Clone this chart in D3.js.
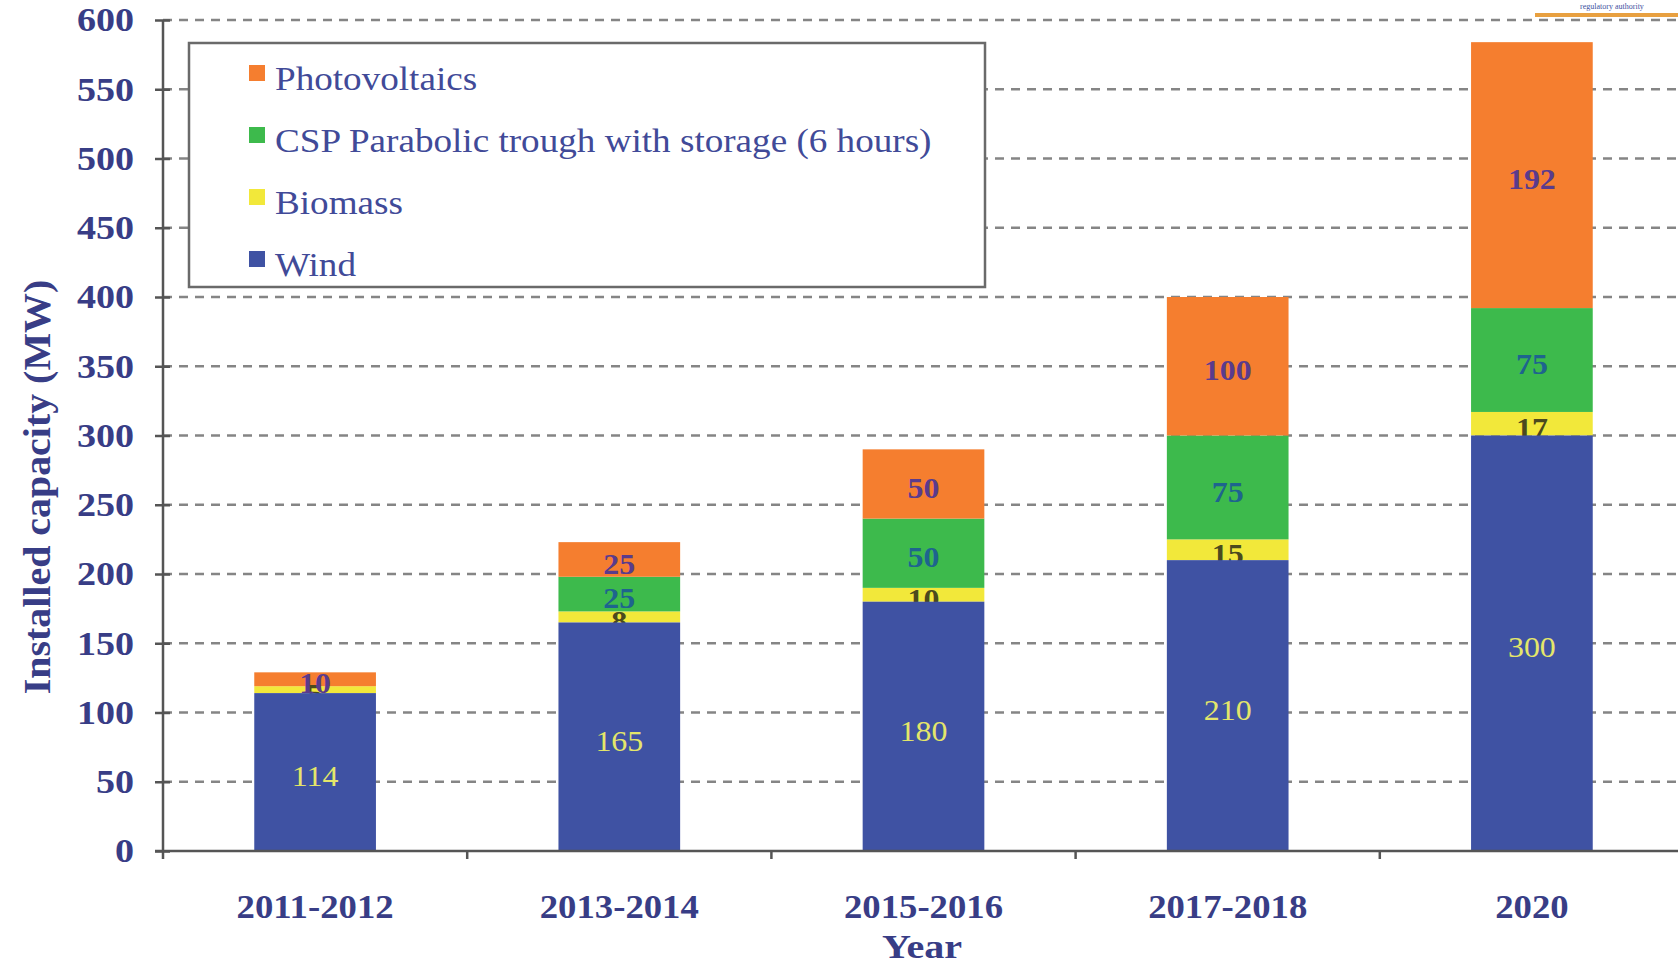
<!DOCTYPE html>
<html>
<head>
<meta charset="utf-8">
<script src="https://cdn.jsdelivr.net/npm/d3@7"></script>
<style>
  html, body { margin: 0; padding: 0; background: #fff; }
  svg { display: block; }
</style>
</head>
<body>
<svg id="chart" width="1678" height="966"></svg>
<script>
// Installed capacity by technology and period (MW)
const categories = ["2011-2012", "2013-2014", "2015-2016", "2017-2018", "2020"];
const wind = [114, 165, 180, 210, 300];
const biomass = [5, 8, 10, 15, 17];
const csp = [0, 25, 50, 75, 75];
const photovoltaics = [10, 25, 50, 100, 192];
const seriesKeys = ["wind", "biomass", "csp", "pv"];
const seriesNames = {
  wind: "Wind",
  biomass: "Biomass",
  csp: "CSP Parabolic trough with storage (6 hours)",
  pv: "Photovoltaics"
};
const yTicks = [0, 50, 100, 150, 200, 250, 300, 350, 400, 450, 500, 550, 600];
const legendOrder = ["pv", "csp", "biomass", "wind"];

const colors = { wind: "#3f52a3", biomass: "#f2e83a", csp: "#3dba4c", pv: "#f57e2f" };
const labelColors = { wind: "#e4e66a", biomass: "#4b4a1e", csp: "#1e648e", pv: "#5a3b8c" };
const labelWeights = { wind: "normal", biomass: "bold", csp: "bold", pv: "bold" };
const textBlue = "#383d86";
const serif = "'Liberation Serif', 'Times New Roman', serif";

// widen glyphs horizontally (the typeface is set slightly expanded)
function widen(sel, factor) {
  sel.each(function () {
    const w = this.getComputedTextLength();
    d3.select(this).attr("textLength", w * factor).attr("lengthAdjust", "spacingAndGlyphs");
  });
}

const rows = categories.map((c, i) => ({
  category: c, wind: wind[i], biomass: biomass[i], csp: csp[i], pv: photovoltaics[i]
}));

const svg = d3.select("#chart");
const plotLeft = 163, plotRight = 1684, plotTop = 20, plotBottom = 851;

const x = d3.scaleBand().domain(categories).range([plotLeft, plotRight])
  .paddingInner(0.6).paddingOuter(0.3);
const y = d3.scaleLinear().domain([0, 600]).range([plotBottom, plotTop]);

// dashed gridlines
svg.append("g").selectAll("line").data(yTicks.filter(d => d > 0)).join("line")
  .attr("x1", plotLeft).attr("x2", 1678)
  .attr("y1", d => y(d)).attr("y2", d => y(d))
  .attr("stroke", "#858585").attr("stroke-width", 2.4)
  .attr("stroke-dasharray", "9,7");

// stacked bars: upper segments first, small biomass labels, then the wind base on top
const stacked = d3.stack().keys(seriesKeys)(rows);
const barG = svg.append("g");
const drawRects = layer => barG.append("g").selectAll("rect").data(layer).join("rect")
  .attr("x", d => x(d.data.category))
  .attr("width", x.bandwidth())
  .attr("y", d => y(d[1]))
  .attr("height", d => y(d[0]) - y(d[1]))
  .attr("fill", colors[layer.key]);
const drawLabels = layer => {
  const t = barG.append("g").selectAll("text").data(layer.filter(d => d[1] - d[0] > 0)).join("text")
    .attr("x", d => x(d.data.category) + x.bandwidth() / 2)
    .attr("y", d => (y(d[0]) + y(d[1])) / 2 + 4)
    .attr("dy", "0.35em")
    .attr("text-anchor", "middle")
    .attr("font-family", serif)
    .attr("font-size", 29)
    .attr("font-weight", labelWeights[layer.key])
    .attr("fill", labelColors[layer.key])
    .text(d => d[1] - d[0]);
  widen(t, 1.1);
};
const byKey = k => stacked.find(l => l.key === k);
["biomass", "csp", "pv"].forEach(k => drawRects(byKey(k)));
drawLabels(byKey("biomass"));
drawRects(byKey("wind"));
["wind", "csp", "pv"].forEach(k => drawLabels(byKey(k)));

// y axis
const yAxis = svg.append("g").attr("transform", `translate(${plotLeft},0)`)
  .call(d3.axisLeft(y).tickValues(yTicks).tickSize(8).tickPadding(21));
yAxis.select(".domain").attr("stroke", "#555").attr("stroke-width", 2.5)
  .attr("d", `M0,${plotTop}V${plotBottom + 8}`);
yAxis.selectAll(".tick line").attr("stroke", "#555").attr("stroke-width", 2.5)
  .attr("x1", 7);
const yTickText = yAxis.selectAll(".tick text")
  .attr("font-family", serif).attr("font-size", 34).attr("font-weight", "bold")
  .attr("fill", textBlue);
widen(yTickText, 1.12);

// x axis baseline with separators between categories
svg.append("line").attr("x1", plotLeft - 8).attr("x2", 1678)
  .attr("y1", plotBottom).attr("y2", plotBottom)
  .attr("stroke", "#555").attr("stroke-width", 2.5);
const gap = x.step() - x.bandwidth();
svg.append("g").selectAll("line").data(categories.slice(1)).join("line")
  .attr("x1", d => x(d) - gap / 2).attr("x2", d => x(d) - gap / 2)
  .attr("y1", plotBottom).attr("y2", plotBottom + 8)
  .attr("stroke", "#555").attr("stroke-width", 2.5);
const xTickText = svg.append("g").selectAll("text").data(categories).join("text")
  .attr("x", d => x(d) + x.bandwidth() / 2)
  .attr("y", 918)
  .attr("text-anchor", "middle")
  .attr("font-family", serif).attr("font-size", 34).attr("font-weight", "bold")
  .attr("fill", textBlue)
  .text(d => d);
widen(xTickText, 1.08);

// axis titles
const xTitle = svg.append("text")
  .attr("x", 922).attr("y", 958)
  .attr("text-anchor", "middle")
  .attr("font-family", serif).attr("font-size", 34).attr("font-weight", "bold")
  .attr("fill", textBlue).text("Year");
widen(xTitle, 1.18);
const yTitle = svg.append("text")
  .attr("transform", "translate(50,487) rotate(-90)")
  .attr("text-anchor", "middle")
  .attr("font-family", serif).attr("font-size", 38).attr("font-weight", "bold")
  .attr("fill", textBlue).text("Installed capacity (MW)");
widen(yTitle, 1.05);

// legend
const legend = svg.append("g");
legend.append("rect")
  .attr("x", 189).attr("y", 43).attr("width", 796).attr("height", 244)
  .attr("fill", "#fff").attr("stroke", "#6a6a6a").attr("stroke-width", 2.5);
legendOrder.forEach((k, i) => {
  const cy = 78 + i * 62;
  legend.append("rect")
    .attr("x", 249).attr("y", cy - 13).attr("width", 16).attr("height", 16)
    .attr("fill", colors[k]);
  const t = legend.append("text")
    .attr("x", 275).attr("y", cy).attr("dy", "0.35em")
    .attr("font-family", serif).attr("font-size", 33)
    .attr("fill", "#414a98").text(seriesNames[k]);
  widen(t, 1.125);
});

// corner mark
svg.append("rect").attr("x", 1535).attr("y", 13).attr("width", 143).attr("height", 4)
  .attr("fill", "#e8a040");
svg.append("text").attr("x", 1612).attr("y", 9).attr("text-anchor", "middle")
  .attr("font-family", serif).attr("font-size", 8).attr("fill", "#4050a0")
  .text("regulatory authority");
</script>
</body>
</html>
